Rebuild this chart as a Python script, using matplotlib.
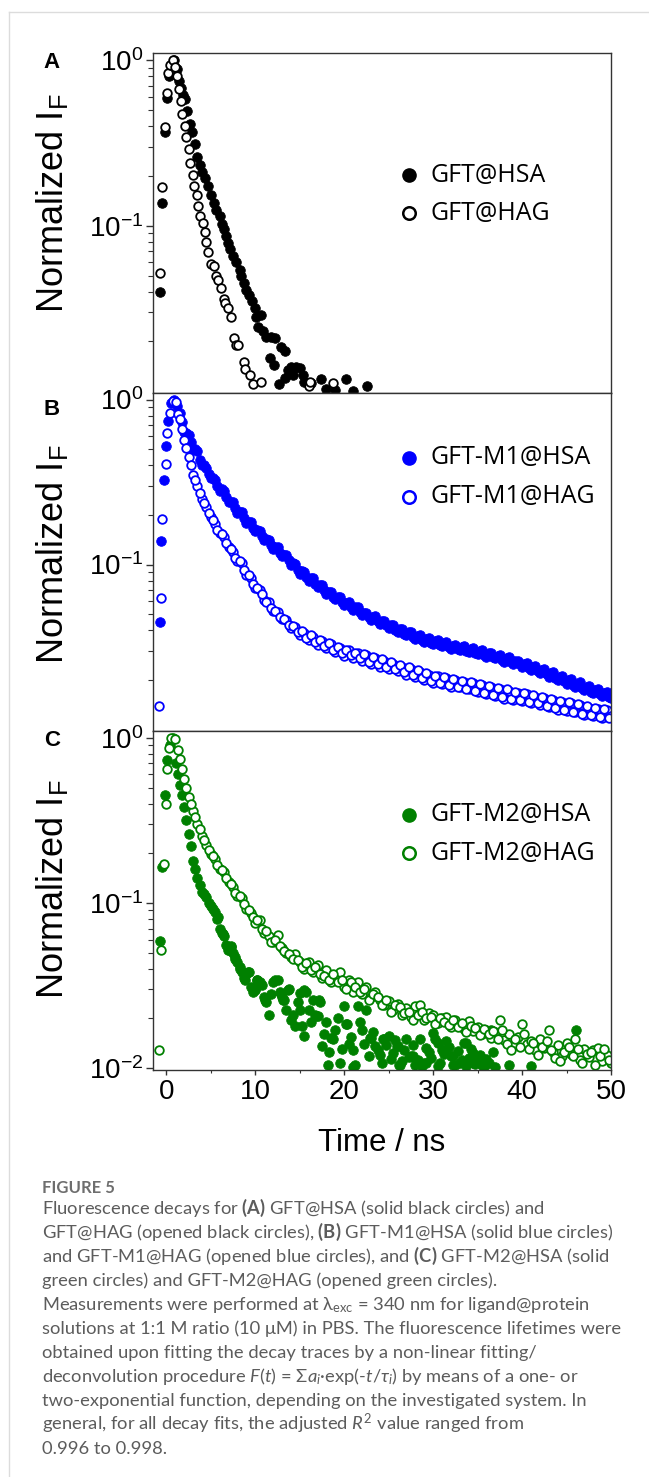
import matplotlib
matplotlib.use("Agg")
import matplotlib.pyplot as plt
from matplotlib.lines import Line2D
from matplotlib.ticker import MultipleLocator, FixedLocator, NullFormatter

plt.rcParams['font.family'] = ['Liberation Sans', 'DejaVu Sans']
plt.rcParams['axes.unicode_minus'] = False
plt.rcParams['mathtext.fontset'] = 'custom'
plt.rcParams['mathtext.rm'] = 'Lato'
plt.rcParams['mathtext.it'] = 'Lato:italic'
plt.rcParams['mathtext.bf'] = 'Lato:bold'

# ---------------- data (time in ns, normalized intensity) ----------------
# channel times shared by the decay tails
t_tail = [1.5, 2.0, 2.5, 3.0, 3.5, 4.0, 4.5, 5.0, 5.5, 6.0,
          6.5, 7.0, 7.5, 8.0, 8.5, 9.0, 9.5, 10.0, 10.5, 11.0,
          11.5, 12.0, 12.5, 13.0, 13.5, 14.0, 14.5, 15.0, 15.5, 16.0,
          16.5, 17.0, 17.5, 18.0, 18.5, 19.0, 19.5, 20.0, 20.5, 21.0,
          21.5, 22.0, 22.5, 23.0, 23.5, 24.0, 24.5, 25.0, 25.5, 26.0,
          26.5, 27.0, 27.5, 28.0, 28.5, 29.0, 29.5, 30.0, 30.5, 31.0,
          31.5, 32.0, 32.5, 33.0, 33.5, 34.0, 34.5, 35.0, 35.5, 36.0,
          36.5, 37.0, 37.5, 38.0, 38.5, 39.0, 39.5, 40.0, 40.5, 41.0,
          41.5, 42.0, 42.5, 43.0, 43.5, 44.0, 44.5, 45.0, 45.5, 46.0,
          46.5, 47.0, 47.5, 48.0, 48.5, 49.0, 49.5, 50.0]
t_mid = [1.75, 2.25, 2.75, 3.25, 3.75, 4.25, 4.75, 5.25, 5.75, 6.25,
         6.75, 7.25, 7.75, 8.25, 8.75, 9.25, 9.75, 10.25, 10.75, 11.25,
         11.75, 12.25, 12.75, 13.25, 13.75, 14.25, 14.75, 15.25, 15.75, 16.25,
         16.75, 17.25, 17.75, 18.25, 18.75, 19.25, 19.75, 20.25, 20.75, 21.25,
         21.75, 22.25, 22.75, 23.25, 23.75, 24.25, 24.75, 25.25, 25.75, 26.25,
         26.75, 27.25, 27.75, 28.25, 28.75, 29.25, 29.75, 30.25, 30.75, 31.25,
         31.75, 32.25, 32.75, 33.25, 33.75, 34.25, 34.75, 35.25, 35.75, 36.25,
         36.75, 37.25, 37.75, 38.25, 38.75, 39.25, 39.75, 40.25, 40.75, 41.25,
         41.75, 42.25, 42.75, 43.25, 43.75, 44.25, 44.75, 45.25, 45.75, 46.25,
         46.75, 47.25, 47.75, 48.25, 48.75, 49.25, 49.75]

# A: GFT
t_a_hsa = [-0.67, -0.45, -0.19, 0.07, 0.26, 0.56, 0.86, 1.2, 1.45, 1.69,
           1.88, 2.06, 2.32, 2.62, 2.88, 3.18, 3.45, 3.75, 4.04, 4.38,
           4.68, 4.98, 5.32, 5.62, 6.0, 6.29, 6.48, 6.74, 6.93, 7.19,
           7.49, 7.87, 8.24, 8.43, 8.73, 8.91, 9.25, 9.66, 9.93, 10.1,
           10.3, 10.6, 10.9, 11.2, 11.6, 11.8, 12.1, 12.2, 12.7, 12.9,
           13.3, 13.3, 13.7, 14.0, 14.2, 14.6, 15.0, 15.4, 15.5, 16.3,
           17.4, 18.0, 19.0, 20.2, 21.0, 22.6]
i_a_hsa = [0.040, 0.137, 0.367, 0.594, 0.80, 0.94, 1.0, 0.88, 0.75, 0.68,
           0.62, 0.58, 0.495, 0.412, 0.367, 0.313, 0.26, 0.232, 0.212, 0.193,
           0.173, 0.154, 0.137, 0.125, 0.114, 0.102, 0.095, 0.087, 0.079, 0.072,
           0.066, 0.060, 0.054, 0.050, 0.045, 0.041, 0.038, 0.035, 0.032, 0.028,
           0.0245, 0.029, 0.023, 0.0214, 0.0159, 0.0214, 0.0145, 0.021, 0.011, 0.0186,
           0.0174, 0.012, 0.0135, 0.014, 0.0126, 0.014, 0.0138, 0.0126, 0.0113, 0.0112,
           0.0118, 0.0103, 0.0102, 0.0118, 0.0101, 0.0108]
t_a_hag = [-0.75, -0.45, -0.19, 0.04, 0.19, 0.45, 0.75, 1.0, 1.24, 1.42,
           1.6, 1.76, 2.06, 2.25, 2.51, 2.7, 2.95, 3.15, 3.4, 3.55,
           3.75, 4.1, 4.3, 4.49, 4.7, 5.05, 5.35, 5.55, 5.8, 6.18,
           6.48, 6.62, 6.9, 7.3, 7.65, 7.87, 8.1, 8.7, 8.9, 9.4,
           9.7, 10.7, 16.0, 16.2, 18.7]
i_a_hag = [0.052, 0.172, 0.394, 0.637, 0.84, 0.94, 1.0, 0.906, 0.80, 0.667,
           0.57, 0.473, 0.40, 0.343, 0.292, 0.238, 0.203, 0.173, 0.154, 0.131,
           0.114, 0.104, 0.091, 0.080, 0.069, 0.059, 0.057, 0.050, 0.047, 0.042,
           0.036, 0.034, 0.032, 0.028, 0.021, 0.019, 0.019, 0.015, 0.0136, 0.0126,
           0.011, 0.0114, 0.0108, 0.0113, 0.0112]

# B: GFT-M1
t_b_hsa_rise = [-0.75, -0.56, -0.3, -0.07, 0.19, 0.56, 0.86, 1.2]
i_b_hsa_rise = [0.0447, 0.138, 0.324, 0.525, 0.74, 0.95, 1.0, 0.92]
i_b_hsa_tail = [0.83, 0.64, 0.61, 0.50, 0.49, 0.40, 0.385, 0.335, 0.325, 0.28,
                0.278, 0.240, 0.238, 0.206, 0.207, 0.179, 0.181, 0.159, 0.160, 0.140,
                0.140, 0.125, 0.127, 0.112, 0.114, 0.100, 0.101, 0.088, 0.090, 0.080,
                0.0825, 0.0730, 0.0750, 0.0665, 0.0685, 0.0615, 0.0640, 0.0570, 0.0590, 0.0530,
                0.0552, 0.0495, 0.0510, 0.0462, 0.0485, 0.0438, 0.0458, 0.0415, 0.0432, 0.0390,
                0.0408, 0.0372, 0.0390, 0.0355, 0.0372, 0.0340, 0.0360, 0.0330, 0.0347, 0.0320,
                0.0338, 0.0309, 0.0327, 0.0302, 0.0320, 0.0296, 0.0313, 0.0285, 0.0304, 0.0276,
                0.0292, 0.0270, 0.0284, 0.0258, 0.0274, 0.0250, 0.0262, 0.0238, 0.0253, 0.0230,
                0.0243, 0.0220, 0.0232, 0.0209, 0.0222, 0.0200, 0.0212, 0.0190, 0.0202, 0.0182,
                0.0193, 0.0174, 0.0184, 0.0166, 0.0176, 0.0160, 0.0170, 0.0156]
i_b_hsa_mid = [0.73, 0.63, 0.55, 0.50, 0.43, 0.40, 0.355, 0.335, 0.300, 0.285,
               0.255, 0.241, 0.219, 0.209, 0.191, 0.182, 0.167, 0.161, 0.148, 0.143,
               0.131, 0.128, 0.118, 0.115, 0.106, 0.102, 0.093, 0.091, 0.0840, 0.0825,
               0.0765, 0.0750, 0.0700, 0.0685, 0.0640, 0.0635, 0.0595, 0.0585, 0.0550, 0.0550,
               0.0515, 0.0508, 0.0478, 0.0480, 0.0452, 0.0455, 0.0428, 0.0428, 0.0402, 0.0405,
               0.0382, 0.0388, 0.0364, 0.0370, 0.0348, 0.0355, 0.0336, 0.0342, 0.0326, 0.0333,
               0.0316, 0.0323, 0.0308, 0.0316, 0.0301, 0.0309, 0.0293, 0.0300, 0.0284, 0.0290,
               0.0277, 0.0281, 0.0265, 0.0270, 0.0258, 0.0262, 0.0248, 0.0250, 0.0237, 0.0240,
               0.0227, 0.0229, 0.0216, 0.0219, 0.0206, 0.0209, 0.0196, 0.0199, 0.0187, 0.0190,
               0.0178, 0.0182, 0.0170, 0.0173, 0.0164, 0.0166, 0.0158]
t_b_hag_rise = [-0.86, -0.64, -0.45, -0.07, 0.11, 0.37, 0.75, 1.05, 1.31]
i_b_hag_rise = [0.0138, 0.063, 0.188, 0.404, 0.63, 0.83, 0.98, 0.97, 0.82]
i_b_hag_tail = [0.76, 0.57, 0.45, 0.35, 0.30, 0.25, 0.222, 0.193, 0.176, 0.156,
                0.147, 0.127, 0.119, 0.105, 0.102, 0.087, 0.083, 0.072, 0.070, 0.061,
                0.059, 0.052, 0.0515, 0.0465, 0.0460, 0.0415, 0.0420, 0.0375, 0.0385, 0.0350,
                0.0365, 0.0325, 0.0345, 0.0312, 0.0330, 0.0295, 0.0312, 0.0280, 0.0302, 0.0270,
                0.0290, 0.0262, 0.0283, 0.0250, 0.0270, 0.0240, 0.0262, 0.0232, 0.0250, 0.0226,
                0.0240, 0.0215, 0.0232, 0.0208, 0.0222, 0.0200, 0.0215, 0.0192, 0.0210, 0.0188,
                0.0205, 0.0182, 0.0199, 0.0180, 0.0195, 0.0176, 0.0192, 0.0168, 0.0186, 0.0164,
                0.0180, 0.0160, 0.0176, 0.0154, 0.0172, 0.0152, 0.0166, 0.0148, 0.0164, 0.0145,
                0.0158, 0.0141, 0.0155, 0.0137, 0.0150, 0.0132, 0.0147, 0.0129, 0.0144, 0.0127,
                0.0140, 0.0123, 0.0136, 0.0120, 0.0134, 0.0118, 0.0131, 0.0121]
i_b_hag_mid = [0.66, 0.51, 0.40, 0.325, 0.272, 0.236, 0.205, 0.186, 0.163, 0.153,
               0.135, 0.124, 0.110, 0.105, 0.093, 0.086, 0.076, 0.072, 0.066, 0.059,
               0.0545, 0.0525, 0.0480, 0.0470, 0.0430, 0.0425, 0.0390, 0.0395, 0.0360, 0.0372,
               0.0338, 0.0350, 0.0320, 0.0335, 0.0305, 0.0318, 0.0290, 0.0305, 0.0282, 0.0292,
               0.0270, 0.0285, 0.0258, 0.0275, 0.0248, 0.0266, 0.0240, 0.0255, 0.0232, 0.0246,
               0.0222, 0.0238, 0.0213, 0.0228, 0.0205, 0.0220, 0.0197, 0.0212, 0.0192, 0.0207,
               0.0186, 0.0202, 0.0182, 0.0197, 0.0176, 0.0194, 0.0172, 0.0188, 0.0167, 0.0184,
               0.0163, 0.0179, 0.0158, 0.0175, 0.0154, 0.0169, 0.0150, 0.0166, 0.0147, 0.0162,
               0.0144, 0.0157, 0.0139, 0.0153, 0.0135, 0.0149, 0.0131, 0.0146, 0.0128, 0.0142,
               0.0125, 0.0138, 0.0122, 0.0135, 0.0119, 0.0133, 0.0117]

# C: GFT-M2
t_c_hsa_rise = [-0.75, -0.45, -0.19, 0.07, 0.37, 0.75, 1.1, 1.3]
i_c_hsa_rise = [0.059, 0.166, 0.452, 0.73, 0.90, 1.0, 0.70, 0.60]
i_c_hsa_tail = [0.52, 0.38, 0.26, 0.18, 0.142, 0.117, 0.108, 0.096, 0.088, 0.070,
                0.063, 0.052, 0.050, 0.044, 0.038, 0.037, 0.031, 0.030, 0.033, 0.027,
                0.021, 0.033, 0.034, 0.027, 0.0225, 0.0196, 0.0179, 0.0284, 0.0156, 0.0225,
                0.026, 0.0206, 0.0136, 0.019, 0.0152, 0.017, 0.0108, 0.0237, 0.014, 0.0129,
                0.0237, 0.0171, 0.0225, 0.0152, 0.0136, 0.012, 0.0149, 0.0156, 0.0124, 0.0136,
                0.011, 0.0149, 0.0118, 0.0105, 0.0149, 0.0108, 0.0125, 0.0163, 0.0141, 0.0129,
                0.0145, 0.0118, 0.0105, 0.0108, 0.0141, 0.0115, 0.0124, 0.0113, 0.0104, 0.0113,
                0.0171, 0.0102]
i_c_hsa_mid = [0.45, 0.32, 0.22, 0.16, 0.128, 0.113, 0.100, 0.092, 0.080, 0.066,
               0.056, 0.054, 0.046, 0.041, 0.035, 0.038, 0.029, 0.034, 0.032, 0.025,
               0.028, 0.034, 0.029, 0.026, 0.030, 0.021, 0.025, 0.018, 0.029, 0.019,
               0.021, 0.025, 0.016, 0.0125, 0.015, 0.020, 0.013, 0.0185, 0.0155, 0.0105,
               0.019, 0.014, 0.0118, 0.0165, 0.0128, 0.0108, 0.0138, 0.0114, 0.0148, 0.0104,
               0.0128, 0.0116, 0.0138, 0.0112, 0.0103, 0.0132, 0.0115, 0.0150, 0.0107, 0.0122,
               0.0135, 0.0104, 0.0126, 0.0112, 0.0103, 0.0130, 0.0106, 0.0120, 0.0102, 0.0108,
               0.0125]
t_c_hsa_extra = [5.8, 6.37, 6.93, 7.3, 7.75, 8.24, 8.8, 9.18, 9.93, 10.2,
                 11.05, 12.9, 13.1, 13.7, 15.0, 15.5, 16.8, 17.2, 18.2, 20.3,
                 21.0, 22.9, 24.4, 25.9, 26.2, 27.7, 29.2, 30.6, 31.1, 32.2,
                 33.7, 34.5, 38.5, 41.0, 46.1]
i_c_hsa_extra = [0.082, 0.065, 0.0517, 0.055, 0.047, 0.040, 0.034, 0.038, 0.0297, 0.034,
                 0.026, 0.028, 0.026, 0.0297, 0.0225, 0.0297, 0.0206, 0.026, 0.0105, 0.0185,
                 0.0102, 0.0152, 0.0149, 0.0136, 0.0104, 0.0118, 0.0108, 0.0103, 0.0129, 0.0118,
                 0.0141, 0.0108, 0.0105, 0.0103, 0.0170]
t_c_hag_rise = [-0.86, -0.56, -0.3, -0.07, 0.07, 0.26, 0.56, 1.01, 1.31]
i_c_hag_rise = [0.0129, 0.052, 0.173, 0.40, 0.645, 0.87, 1.0, 0.98, 0.84]
i_c_hag_tail = [0.74, 0.56, 0.44, 0.36, 0.30, 0.255, 0.225, 0.198, 0.185, 0.160,
                0.153, 0.133, 0.125, 0.110, 0.107, 0.092, 0.087, 0.076, 0.079, 0.066,
                0.063, 0.058, 0.064, 0.053, 0.050, 0.047, 0.049, 0.044, 0.040, 0.044,
                0.038, 0.042, 0.035, 0.039, 0.033, 0.036, 0.038, 0.031, 0.034, 0.029,
                0.033, 0.028, 0.031, 0.027, 0.029, 0.026, 0.024, 0.0255, 0.0225, 0.0245,
                0.021, 0.0232, 0.0205, 0.0236, 0.024, 0.0195, 0.0215, 0.021, 0.0188, 0.020,
                0.0205, 0.0178, 0.0196, 0.0185, 0.0172, 0.0192, 0.0168, 0.0178, 0.0160, 0.0170,
                0.0152, 0.0165, 0.0196, 0.0148, 0.0160, 0.0138, 0.0155, 0.0185, 0.0140, 0.0145,
                0.0128, 0.0150, 0.0133, 0.0170, 0.0125, 0.0138, 0.0118, 0.0142, 0.0122, 0.0149,
                0.0112, 0.0130, 0.0116, 0.0128, 0.0132, 0.0110, 0.0120, 0.0108]
i_c_hag_mid = [0.65, 0.50, 0.40, 0.33, 0.28, 0.24, 0.21, 0.192, 0.170, 0.158,
               0.142, 0.130, 0.115, 0.110, 0.098, 0.090, 0.082, 0.079, 0.070, 0.068,
               0.058, 0.060, 0.055, 0.051, 0.049, 0.046, 0.045, 0.041, 0.043, 0.039,
               0.041, 0.037, 0.036, 0.034, 0.037, 0.033, 0.034, 0.030, 0.033, 0.031,
               0.029, 0.030, 0.026, 0.028, 0.027, 0.024, 0.026, 0.022, 0.024, 0.0235,
               0.0215, 0.022, 0.0195, 0.021, 0.022, 0.020, 0.0205, 0.0185, 0.0200, 0.0190,
               0.0182, 0.0195, 0.0178, 0.0188, 0.0165, 0.0180, 0.0175, 0.0158, 0.0172, 0.0160,
               0.0168, 0.0150, 0.0170, 0.0140, 0.0128, 0.0150, 0.0135, 0.0160, 0.0130, 0.0142,
               0.0120, 0.0135, 0.0145, 0.0128, 0.0115, 0.0110, 0.0125, 0.0135, 0.0118, 0.0130,
               0.0108, 0.0122, 0.0125, 0.0105, 0.0118, 0.0130, 0.0112]

labels_a = ['GFT@HSA', 'GFT@HAG']
labels_b = ['GFT-M1@HSA', 'GFT-M1@HAG']
labels_c = ['GFT-M2@HSA', 'GFT-M2@HAG']

caption = [
    r'Fluorescence decays for $\mathbf{(A)}$ GFT@HSA (solid black circles) and',
    r'GFT@HAG (opened black circles), $\mathbf{(B)}$ GFT-M1@HSA (solid blue circles)',
    r'and GFT-M1@HAG (opened blue circles), and $\mathbf{(C)}$ GFT-M2@HSA (solid',
    r'green circles) and GFT-M2@HAG (opened green circles).',
    r'Measurements were performed at λ$_\mathregular{exc}$ = 340 nm for ligand@protein',
    r'solutions at 1:1 M ratio (10 μM) in PBS. The fluorescence lifetimes were',
    r'obtained upon fitting the decay traces by a non-linear fitting/',
    r'deconvolution procedure $\mathit{F(t)}$ = Σ$\mathit{a_i}$·exp(-$\mathit{t/\tau_i}$) by means of a one- or',
    r'two-exponential function, depending on the investigated system. In',
    r'general, for all decay fits, the adjusted $\mathit{R}^\mathregular{2}$ value ranged from',
    r'0.996 to 0.998.',
]

# ---------------- figure ----------------
W, H = 649, 1477
fig = plt.figure(figsize=(W / 100, H / 100), dpi=100)

# thin page frame
fig.add_artist(Line2D([9 / W, 9 / W], [0, 1 - 12 / H], transform=fig.transFigure, color='#dcdcdc', lw=1))
fig.add_artist(Line2D([9 / W, 1], [1 - 12 / H, 1 - 12 / H], transform=fig.transFigure, color='#dcdcdc', lw=1))

n_c = len(i_c_hsa_tail)
panels = [
    # top, bottom (px), colour, series, labels, letter, letter y, ylabel y, legend rows
    (53.3, 392.7, 'black',
     [(t_a_hsa, i_a_hsa), (t_a_hag, i_a_hag)], labels_a, 'A', 62.5, 203, (0.641, 0.529)),
    (392.7, 731.0, '#0000ff',
     [(t_b_hsa_rise + t_tail + t_mid, i_b_hsa_rise + i_b_hsa_tail + i_b_hsa_mid),
      (t_b_hag_rise + t_tail + t_mid, i_b_hag_rise + i_b_hag_tail + i_b_hag_mid)],
     labels_b, 'B', 409.5, 554, (0.807, 0.693)),
    (731.0, 1069.5, '#008000',
     [(t_c_hsa_rise + t_tail[:n_c] + t_mid[:len(i_c_hsa_mid)] + t_c_hsa_extra,
       i_c_hsa_rise + i_c_hsa_tail + i_c_hsa_mid + i_c_hsa_extra),
      (t_c_hag_rise + t_tail + t_mid, i_c_hag_rise + i_c_hag_tail + i_c_hag_mid)],
     labels_c, 'C', 740, 889, (0.752, 0.639)),
]

for k, (top, bot, col, series, labels, letter, ly, yly, rows) in enumerate(panels):
    ax = fig.add_axes([153 / W, 1 - bot / H, 458 / W, (bot - top) / H])
    (th, ih), (tg, ig) = series
    ax.plot(th, ih, 'o', ls='none', ms=6.9, mfc=col, mec=col, mew=0.6)
    ax.plot(tg, ig, 'o', ls='none', ms=6.2, mfc='white', mec=col, mew=1.3)

    ax.set_yscale('log')
    ax.set_ylim(0.0098, 1.1)
    ax.set_xlim(-1.5, 50)
    ax.yaxis.set_major_locator(FixedLocator([1, 0.1, 0.01] if k == 2 else [1, 0.1]))
    ax.yaxis.set_minor_formatter(NullFormatter())
    ax.xaxis.set_major_locator(MultipleLocator(10))
    ax.xaxis.set_minor_locator(MultipleLocator(5))
    for sp in ax.spines.values():
        sp.set_color('#333333')
        sp.set_linewidth(1.0)
    ax.tick_params(axis='y', which='major', direction='out', length=5, width=1, labelsize=20, pad=2, color='#333333')
    ax.tick_params(axis='y', which='minor', direction='out', length=3.5, width=0.8, color='#333333')
    ax.tick_params(axis='x', which='major', direction='out', length=3.5, width=1, labelsize=20, pad=3, color='#333333')
    ax.tick_params(axis='x', which='minor', direction='out', length=2.2, width=0.8, color='#333333')
    if k < 2:
        ax.tick_params(axis='x', which='both', bottom=False, labelbottom=False)

    # legend
    ax.plot([0.559], [rows[0]], 'o', transform=ax.transAxes, ms=9.5, mfc=col, mec=col, clip_on=False)
    ax.plot([0.559], [rows[1]], 'o', transform=ax.transAxes, ms=9.0, mfc='white', mec=col, mew=1.8, clip_on=False)
    for yf, lab in zip(rows, labels):
        ax.text(0.606, yf, lab, transform=ax.transAxes, va='center', ha='left',
                fontsize=18, family='Open Sans', color='black')

    fig.text(52 / W, 1 - ly / H, letter, fontsize=16, fontweight='bold', ha='center', va='center')
    fig.text(53 / W, 1 - yly / H, r'Normalized I$_\mathregular{F}$', rotation=90,
             ha='center', va='center', fontsize=26)

fig.text(382 / W, 1 - 1143 / H, 'Time / ns', ha='center', va='center', fontsize=22.5)

# caption
fig.text(41.5 / W, 1 - 1193 / H, 'FIGURE 5', fontsize=12, fontweight='bold',
         color='#6e6e6e', family=['Lato', 'DejaVu Sans'], va='baseline')
for n, line in enumerate(caption):
    fig.text(41.5 / W, 1 - (1214 + 24 * n) / H, line, fontsize=13.2, color='#5c5c5c',
             family=['Lato', 'DejaVu Sans'], va='baseline', ha='left')

fig.savefig('out.png', dpi=100, facecolor='white')
